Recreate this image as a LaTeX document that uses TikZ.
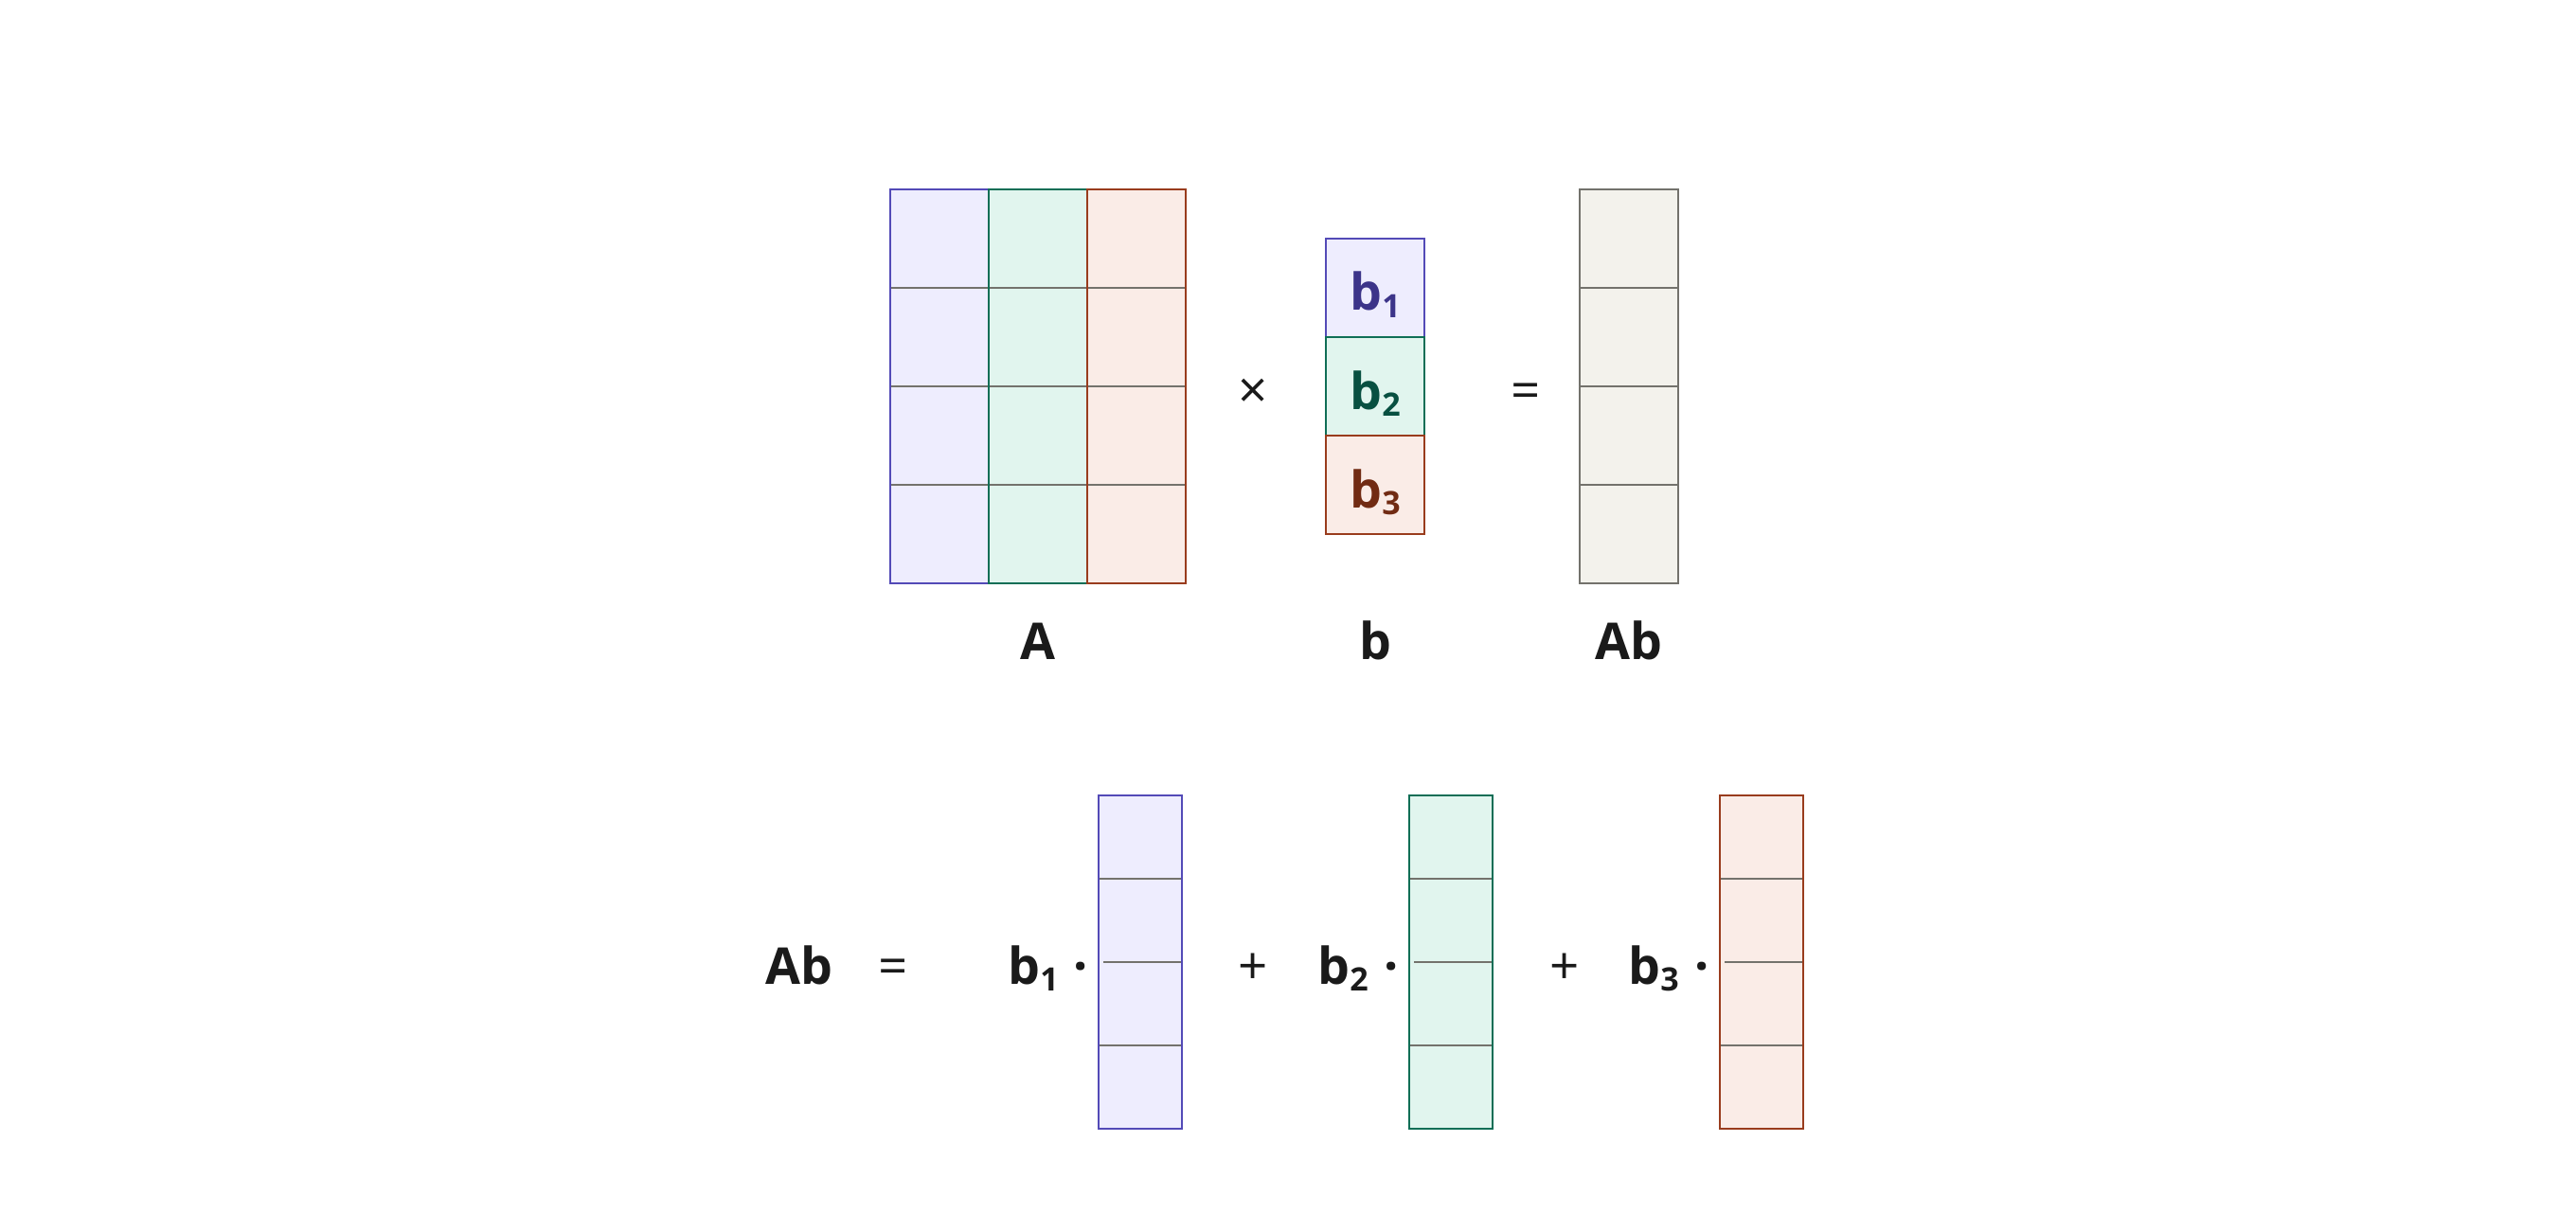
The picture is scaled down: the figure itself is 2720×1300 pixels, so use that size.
\documentclass[tikz,border=0pt]{standalone}
\usepackage{fontspec}
\setmainfont{Open Sans}
\usetikzlibrary{calc}
\definecolor{pfill}{HTML}{EEEDFE}
\definecolor{pline}{HTML}{534AB7}
\definecolor{ptext}{HTML}{3C3489}
\definecolor{gfill}{HTML}{E1F5EE}
\definecolor{gline}{HTML}{0F6E56}
\definecolor{gtext}{HTML}{085041}
\definecolor{cfill}{HTML}{FAECE7}
\definecolor{cline}{HTML}{993C1D}
\definecolor{ctext}{HTML}{712B13}
\definecolor{nfill}{HTML}{F3F2EC}
\definecolor{nline}{HTML}{73726C}
\definecolor{ink}{HTML}{1A1A1A}
\newcommand{\mysub}[1]{\raisebox{-3.8pt}{\fontsize{17pt}{18pt}\selectfont #1}}
\tikzset{
  box/.style={inner sep=0pt, outer sep=0pt, draw=none},
  lbl/.style={font=\fontsize{26.8pt}{30pt}\selectfont\bfseries, text=ink, inner sep=0pt, anchor=base},
  op/.style={font=\fontsize{27.3pt}{30pt}\selectfont, text=ink, inner sep=0pt, anchor=base},
  divline/.style={draw=nline, line width=0.65pt},
  pedge/.style={draw=pline, line width=0.8pt},
  gedge/.style={draw=gline, line width=0.8pt},
  cedge/.style={draw=cline, line width=0.8pt},
  nedge/.style={draw=nline, line width=0.85pt},
  tallcol/.style={minimum width=52pt, minimum height=208pt},
  cellsq/.style={minimum width=52pt, minimum height=52pt},
  sumcol/.style={minimum width=44pt, minimum height=176pt}
}
\begin{document}
\begin{tikzpicture}[x=0.5pt,y=-0.5pt]
\path[use as bounding box, fill=white] (0,0) rectangle (2720,1300);
% ---------- matrix A ----------
\node[box, tallcol, fill=pfill] (A1) at (992,408) {};
\node[box, tallcol, fill=gfill] (A2) at (1096,408) {};
\node[box, tallcol, fill=cfill] (A3) at (1200,408) {};
\foreach \f in {0.25,0.5,0.75}
  \draw[divline] ($(A1.north west)!\f!(A1.south west)$) -- ($(A3.north east)!\f!(A3.south east)$);
\draw[pedge] (A1.north west) rectangle (A1.south east);
\draw[gedge] (A2.north west) rectangle (A2.south east);
\draw[cedge] (A3.north west) rectangle (A3.south east);
\node[lbl] (Alab) at (1096,696) {A};
% ---------- times ----------
\node[op] (times) at (1323,431) {×};
% ---------- vector b ----------
\node[box, cellsq, fill=pfill, pedge] (b1) at (1452,304) {};
\node[box, cellsq, fill=gfill, gedge] (b2) at (1452,408) {};
\node[box, cellsq, fill=cfill, cedge] (b3) at (1452,512) {};
\node[lbl, text=ptext] (b1t) at (1452,328) {b\mysub{1}};
\node[lbl, text=gtext] (b2t) at (1452,432) {b\mysub{2}};
\node[lbl, text=ctext] (b3t) at (1452,536) {b\mysub{3}};
\node[lbl] (blab) at (1452,696) {b};
% ---------- equals ----------
\node[op] (eq) at (1611,431) {=};
% ---------- result Ab ----------
\node[box, tallcol, fill=nfill, nedge] (Ab) at (1720,408) {};
\foreach \f in {0.25,0.5,0.75}
  \draw[divline, line width=0.85pt] ($(Ab.north west)!\f!(Ab.south west)$) -- ($(Ab.north east)!\f!(Ab.south east)$);
\node[lbl] (Ablab) at (1720,696) {Ab};
% ---------- bottom row ----------
\node[lbl, anchor=base west] (Ab2) at (808,1039) {Ab};
\node[op] (eq2) at (943,1039) {=};
\node[lbl, anchor=base west] (t1) at (1064,1039) {b\mysub{1}};
\node[lbl] (d1) at (1141,1039) {·};
\node[lbl, anchor=base west] (t2) at (1391,1039) {b\mysub{2}};
\node[lbl] (d2) at (1469,1039) {·};
\node[lbl, anchor=base west] (t3) at (1719,1039) {b\mysub{3}};
\node[lbl] (d3) at (1797,1039) {·};
\node[op] (p1) at (1323,1039) {+};
\node[op] (p2) at (1652,1039) {+};
\node[box, sumcol, fill=pfill] (C1) at (1204,1016) {};
\node[box, sumcol, fill=gfill] (C2) at (1532,1016) {};
\node[box, sumcol, fill=cfill] (C3) at (1860,1016) {};
\foreach \c in {C1,C2,C3}{
  \draw[divline] ($(\c.north west)!0.25!(\c.south west)$) -- ($(\c.north east)!0.25!(\c.south east)$);
  \draw[divline] ($(\c.west)+(5,0)$) -- (\c.east);
  \draw[divline] ($(\c.north west)!0.75!(\c.south west)$) -- ($(\c.north east)!0.75!(\c.south east)$);
}
\draw[pedge] (C1.north west) rectangle (C1.south east);
\draw[gedge] (C2.north west) rectangle (C2.south east);
\draw[cedge] (C3.north west) rectangle (C3.south east);
\end{tikzpicture}
\end{document}
